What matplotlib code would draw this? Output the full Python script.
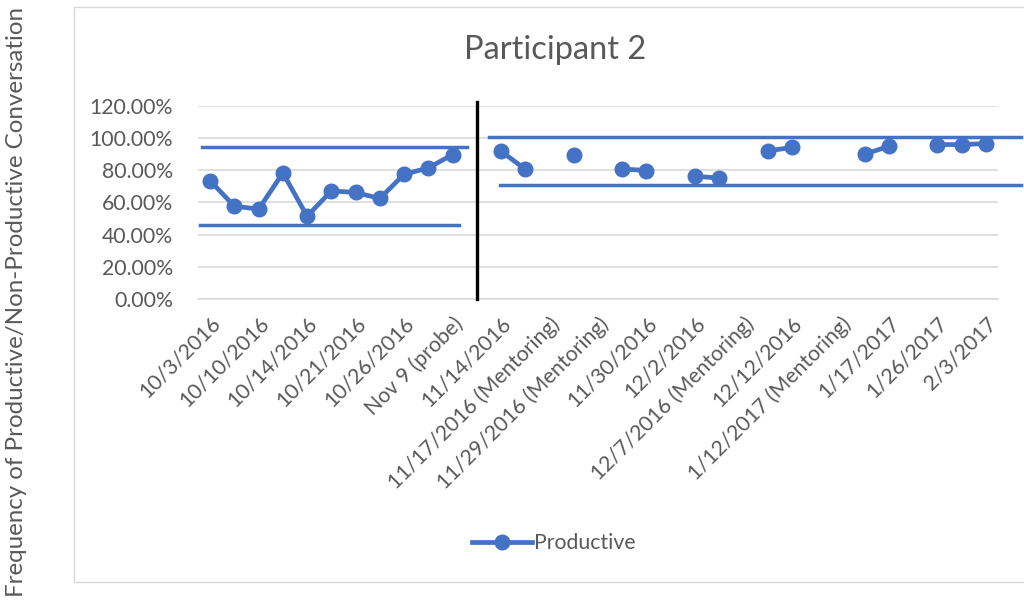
import numpy as np
import matplotlib
matplotlib.use("Agg")
import matplotlib.pyplot as plt
from matplotlib.patches import Rectangle
from matplotlib.ticker import FuncFormatter, MultipleLocator

# session labels, only every other session is labelled on the axis
tickLabels = ["10/3/2016", "10/10/2016", "10/14/2016", "10/21/2016", "10/26/2016",
              "Nov 9 (probe)", "11/14/2016", "11/17/2016 (Mentoring)",
              "11/29/2016 (Mentoring)", "11/30/2016", "12/2/2016",
              "12/7/2016 (Mentoring)", "12/12/2016", "1/12/2017 (Mentoring)",
              "1/17/2017", "1/26/2017", "2/3/2017"]

# percent productive per session (nan = no data that session)
nan = np.nan
productive = [73.4, 57.7, 55.9, 78.3, 51.5, 67.2, 66.2, 62.5, 77.5, 81.4, 89.7,
              nan, 91.8, 80.6, nan, 89.3, nan, 80.8, 79.8, nan, 76.3, 75.1,
              nan, 92.0, 94.1, nan, nan, 89.9, 94.9, nan, 95.9, 95.9, 96.5]

# range lines for each phase: (level, first session, last session)
baselineRange = [(94.4, -0.33, 10.6), (46.0, -0.41, 10.28)]
interventionRange = [(100.6, 11.5, 33.45), (70.7, 11.95, 33.45)]
phaseChange = 11

blue = "#4472C4"
grey = "#595959"
plt.rcParams["font.family"] = ["Lato", "DejaVu Sans"]

fig = plt.figure(figsize=(10.24, 6.07), dpi=100)
ax = fig.add_axes([0.1934, 0.5069, 0.7812, 0.319])

# chart border
fig.patches.append(Rectangle((0.0723, 0.0412), 1.0, 0.947, transform=fig.transFigure,
                             fill=False, edgecolor="#D9D9D9", linewidth=1.0))

x = np.arange(len(productive))
ax.plot(x, productive, color=blue, linewidth=3.4, marker="o", markersize=10.5,
        label="Productive", zorder=4)

for level, x0, x1 in baselineRange + interventionRange:
    ax.plot([x0, x1], [level, level], color=blue, linewidth=2.5, clip_on=False, zorder=3)

ax.plot([phaseChange, phaseChange], [0, 122], color="black", linewidth=2.4,
        clip_on=False, zorder=5)

ax.set_xlim(-0.5, len(productive) - 0.5)
ax.set_ylim(0, 120)
ax.yaxis.set_major_locator(MultipleLocator(20))
ax.yaxis.set_major_formatter(FuncFormatter(lambda v, p: f"{v:.2f}%"))
ax.set_xticks(x[::2])
ax.set_xticklabels(tickLabels, rotation=45, ha="right", va="top", rotation_mode="anchor")

ax.grid(axis="y", color="#D9D9D9", linewidth=1.2)
ax.set_axisbelow(True)
for side in ["top", "right", "left"]:
    ax.spines[side].set_visible(False)
ax.spines["bottom"].set_color("#D9D9D9")
ax.spines["bottom"].set_linewidth(1.2)
ax.tick_params(axis="both", length=0, labelsize=15.3, colors=grey)
ax.tick_params(axis="x", pad=10)
ax.tick_params(axis="y", pad=18)

fig.text(0.542, 0.917, "Participant 2", ha="center", va="center", fontsize=23.5, color=grey)
fig.text(0.016, 0.503, "Frequency of Productive/Non-Productive Conversation", rotation=90,
         ha="center", va="center", fontsize=17.4, color=grey)

fig.legend(loc="center", bbox_to_anchor=(0.541, 0.105), frameon=False, fontsize=15.3,
           labelcolor=grey, handlelength=2.8, handletextpad=0.1)

fig.savefig("out.png", dpi=100)
